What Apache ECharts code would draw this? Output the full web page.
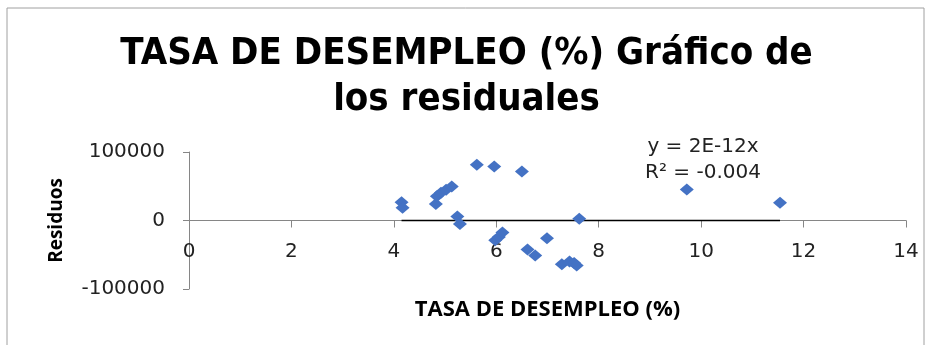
<!DOCTYPE html>
<html>
<head>
<meta charset="utf-8">
<script src="https://cdn.jsdelivr.net/npm/echarts@6/dist/echarts.min.js"></script>
<style>
  html, body { margin: 0; padding: 0; background: #fff; }
  #chart { width: 933px; height: 345px; }
</style>
</head>
<body>
<div id="chart"></div>
<script>
// Residuals of the regression against the unemployment rate
const tasa = [4.15, 4.17, 4.82, 4.84, 4.92, 5.02, 5.13, 5.24, 5.29, 5.62, 5.96, 6.50,
              5.98, 6.05, 6.12, 6.61, 6.76, 6.99, 7.28, 7.43, 7.52, 7.57, 7.62, 9.72, 11.54];
const residuos = [26700, 18500, 24000, 35500, 40500, 44800, 49600, 5800, -5000, 81300, 78800, 71500,
                  -29000, -24000, -17500, -42300, -51000, -25800, -64000, -60000, -62000, -65700, 2400, 45300, 25800];

// Linear trend through the origin: y = 2E-12x
const pendiente = 2e-12;
const tituloGrafico = 'TASA DE DESEMPLEO (%) Gráfico de\nlos residuales';
const tituloX = 'TASA DE DESEMPLEO (%)';
const tituloY = 'Residuos';
const ecuacion = 'y = 2E-12x\nR² = -0.004';

const puntos = tasa.map((x, i) => [x, residuos[i]]);
const xMin = Math.min(...tasa), xMax = Math.max(...tasa);
const tendencia = [[xMin, pendiente * xMin], [xMax, pendiente * xMax]];

const chart = echarts.init(document.getElementById('chart'));
const axisGray = '#868686';
const labelFont = 'DejaVu Sans';

chart.setOption({
  animation: false,
  backgroundColor: '#fff',
  title: {
    text: tituloGrafico,
    left: 'center',
    top: 26,
    textStyle: {
      fontFamily: 'Liberation Sans Narrow, DejaVu Sans Condensed, sans-serif',
      fontWeight: 'bold',
      fontSize: 38,
      lineHeight: 46,
      color: '#000'
    }
  },
  graphic: [
    {
      type: 'rect',
      shape: { x: 7, y: 8, width: 917, height: 360 },
      style: { fill: 'none', stroke: '#a0a0a0', lineWidth: 1 },
      silent: true
    },
    {
      type: 'text',
      x: 703,
      y: 134,
      style: {
        text: ecuacion,
        font: '20px ' + labelFont,
        fill: '#222',
        lineHeight: 26,
        align: 'center',
        verticalAlign: 'top'
      }
    }
  ],
  grid: { left: 189, right: 27, top: 152, bottom: 56, outerBoundsMode: 'none' },
  xAxis: {
    type: 'value',
    min: 0, max: 14, interval: 2,
    name: tituloX,
    nameLocation: 'middle',
    nameGap: 10,
    nameMoveOverlap: false,
    nameTextStyle: { fontFamily: 'Open Sans', fontWeight: 'bold', fontSize: 22, color: '#000' },
    axisLine: { show: true, onZero: true, lineStyle: { color: axisGray, width: 1 } },
    axisTick: { show: true, inside: false, length: 7, lineStyle: { color: axisGray } },
    // tick labels sit just under the zero line
    axisLabel: { margin: -47, fontFamily: labelFont, fontSize: 20, color: '#222',
                 formatter: v => String(v) },
    splitLine: { show: false }
  },
  yAxis: {
    type: 'value',
    min: -100000, max: 100000, interval: 100000,
    name: tituloY,
    nameLocation: 'middle',
    nameGap: 123,
    nameRotate: 90,
    nameTextStyle: { fontFamily: 'Open Sans', fontWeight: 'bold', fontSize: 19, color: '#000' },
    axisLine: { show: true, onZero: false, lineStyle: { color: axisGray, width: 1 } },
    axisTick: { show: true, length: 6, lineStyle: { color: axisGray } },
    axisLabel: { margin: 24, fontFamily: labelFont, fontSize: 20, color: '#222',
                 formatter: v => String(v) },
    splitLine: { show: false }
  },
  series: [
    {
      type: 'line',
      data: tendencia,
      symbol: 'none',
      lineStyle: { color: '#000', width: 1.5 },
      z: 2,
      silent: true
    },
    {
      type: 'scatter',
      data: puntos,
      symbol: 'diamond',
      symbolSize: [14, 12],
      itemStyle: { color: '#4472C4', opacity: 1 },
      z: 3
    }
  ]
});
</script>
</body>
</html>
